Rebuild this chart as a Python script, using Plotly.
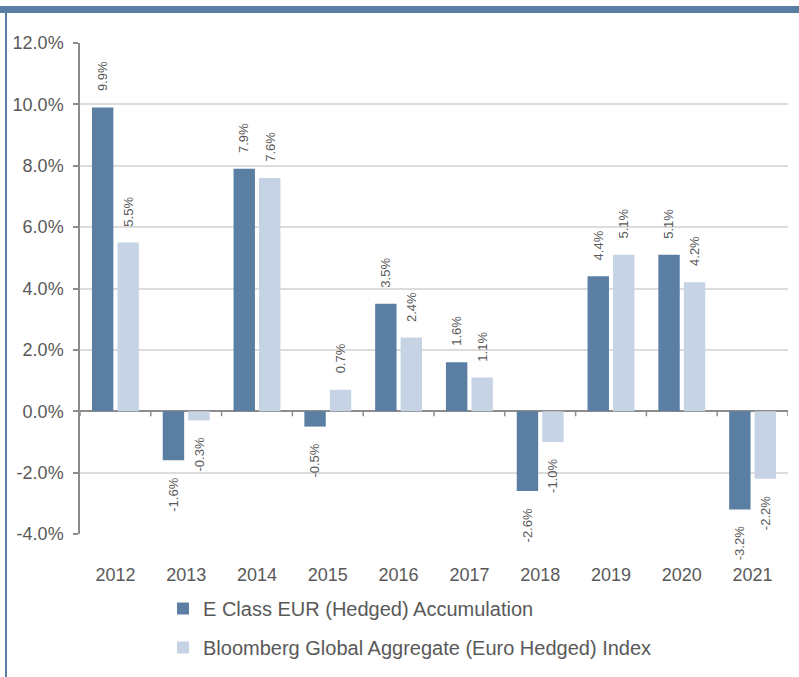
import plotly.graph_objects as go

years = ["2012", "2013", "2014", "2015", "2016", "2017", "2018", "2019", "2020", "2021"]
fund = [9.9, -1.6, 7.9, -0.5, 3.5, 1.6, -2.6, 4.4, 5.1, -3.2]
index = [5.5, -0.3, 7.6, 0.7, 2.4, 1.1, -1.0, 5.1, 4.2, -2.2]
fund_name = "E Class EUR (Hedged) Accumulation"
index_name = "Bloomberg Global Aggregate (Euro Hedged) Index"
y_ticks = [-4, -2, 0, 2, 4, 6, 8, 10, 12]

DARK = "#5b7fa3"
LIGHT = "#c5d3e4"
GREY = "#595959"
FONT = "Liberation Sans, Arial, sans-serif"

W, H = 799, 677
ML, MR, MT, MB = 80, 11, 43, 143
PW, PH = W - ML - MR, H - MT - MB

def px_x(x):
    return (x - ML) / PW

def px_y(y):
    return (H - MB - y) / PH

fig = go.Figure()
fig.add_trace(go.Bar(x=years, y=fund, name=fund_name, marker=dict(color=DARK, line=dict(width=0)),
                     legendgroup="a"))
fig.add_trace(go.Bar(x=years, y=index, name=index_name, marker=dict(color=LIGHT, line=dict(width=0)),
                     legendgroup="b"))

ann = []
for shift, vals in ((-12.8, fund), (12.8, index)):
    for i, v in enumerate(vals):
        ann.append(dict(x=i, y=v, xref="x", yref="y", text=f"{v:.1f}%", textangle=-90,
                        showarrow=False, xshift=shift, yshift=14 if v >= 0 else -15,
                        yanchor="bottom" if v >= 0 else "top", xanchor="center",
                        font=dict(size=13, color=GREY, family=FONT)))

shapes = []
# category boundary ticks on zero line
for i in range(len(years) + 1):
    shapes.append(dict(type="line", xref="x", yref="y", x0=i - 0.5, x1=i - 0.5,
                       ysizemode="pixel", yanchor=0, y0=0, y1=-5,
                       line=dict(color="#8c8c8c", width=1.5)))
# frame decoration: top bar and left line
shapes.append(dict(type="rect", xref="paper", yref="paper", x0=px_x(0), x1=px_x(W),
                   y0=px_y(13), y1=px_y(6), fillcolor=DARK, line=dict(width=0), layer="above"))
shapes.append(dict(type="rect", xref="paper", yref="paper", x0=px_x(5), x1=px_x(7),
                   y0=px_y(H), y1=px_y(6), fillcolor=DARK, line=dict(width=0), layer="above"))

fig.update_layout(
    width=W, height=H,
    margin=dict(l=ML, r=MR, t=MT, b=MB, autoexpand=False),
    paper_bgcolor="white", plot_bgcolor="white",
    barmode="group", bargap=0.28, bargroupgap=0.16,
    font=dict(family=FONT, color=GREY),
    xaxis=dict(type="category", showline=False, showgrid=False, ticks="",
               tickfont=dict(size=18, color=GREY), ticklabelstandoff=28, range=[-0.5, 9.5]),
    yaxis=dict(range=[-4, 12], tickvals=y_ticks, ticktext=[f"{v:.1f}%" for v in y_ticks],
               showline=True, linecolor="#8c8c8c", linewidth=1.5,
               ticks="outside", ticklen=5, tickcolor="#8c8c8c", tickwidth=1.5,
               showgrid=True, gridcolor="#dcdcdc", gridwidth=2,
               zeroline=True, zerolinecolor="#8c8c8c", zerolinewidth=2,
               tickfont=dict(size=18, color=GREY), ticklabelstandoff=6),
    legend=dict(orientation="v", x=px_x(163), y=px_y(589), xanchor="left", yanchor="top",
                font=dict(size=20, color=GREY, family=FONT), tracegroupgap=10,
                itemwidth=30, bgcolor="rgba(0,0,0,0)"),
    annotations=ann, shapes=shapes,
)

fig.write_html("out.html")
